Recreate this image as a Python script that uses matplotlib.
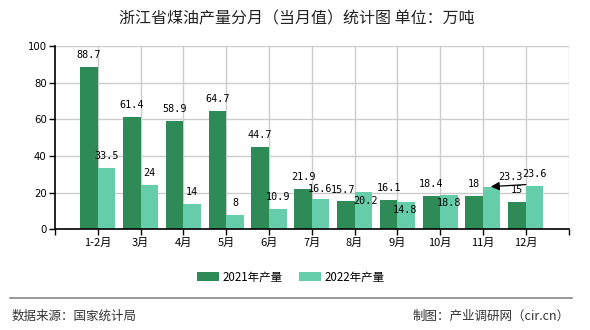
import matplotlib
matplotlib.use("Agg")
import matplotlib.pyplot as plt
from matplotlib.lines import Line2D
from matplotlib.patches import Patch

plt.rcParams['font.family'] = ['Noto Sans CJK SC', 'DejaVu Sans']

# --- Data ------------------------------------------------------------------
months = ['1-2月', '3月', '4月', '5月', '6月', '7月', '8月', '9月', '10月', '11月', '12月']
y2021 = [88.7, 61.4, 58.9, 64.7, 44.7, 21.9, 15.7, 16.1, 18.4, 18, 15]
y2022 = [33.5, 24, 14, 8, 10.9, 16.6, 20.2, 14.8, 18.8, 23.3, 23.6]
yticks = [0, 20, 40, 60, 80, 100]

C2021 = "#2e8b57"
C2022 = "#66cdaa"
PX = 72 / 100  # points per pixel at dpi 100

# label offsets in pixels (dx, dy) relative to bar top, default (0, 12)
off2021 = {6: (-2.5, 11)}
off2022 = {5: (0, 9.5), 6: (2, -9), 7: (-1, -8), 8: (0, -8)}

fig = plt.figure(figsize=(5.9, 3.3), dpi=100)
ax = fig.add_axes([55 / 590, 1 - 229.3 / 330, 513.5 / 590, 183.3 / 330])

x = list(range(len(months)))
w = 0.41
ax.bar([i - w / 2 for i in x], y2021, width=w, color=C2021, zorder=3)
ax.bar([i + w / 2 for i in x], y2022, width=w, color=C2022, zorder=3)

lab_font = dict(family="DejaVu Sans Mono", fontsize=7.3, ha="center", va="center", zorder=5)
for i, v in enumerate(y2021):
    dx, dy = off2021.get(i, (0, 12))
    ax.annotate(f"{v:g}", (i - w / 2, v), xytext=(dx * PX, dy * PX),
                textcoords="offset points", **lab_font)
for i, v in enumerate(y2022):
    if i == 9:
        # displaced label with leader line
        ax.annotate("", (i + w / 2 - 0.02, v), xytext=(35 * PX, 2 * PX),
                    textcoords="offset points",
                    arrowprops=dict(arrowstyle="-|>,head_length=0.5,head_width=0.25",
                                    color="black", lw=0.9, shrinkA=0, shrinkB=0),
                    zorder=5)
        ax.annotate(f"{v:g}", (i + w / 2, v), xytext=(18.6 * PX, 9.6 * PX),
                    textcoords="offset points", **lab_font)
        continue
    dx, dy = off2022.get(i, (0, 12))
    ax.annotate(f"{v:g}", (i + w / 2, v), xytext=(dx * PX, dy * PX),
                textcoords="offset points", **lab_font)

ax.set_xlim(-1, 11)
ax.set_ylim(0, 100)
ax.set_yticks(yticks)
ax.set_yticklabels([str(t) for t in yticks], family="DejaVu Sans", fontsize=7.3)
ax.set_xticks(list(range(-1, 12)))
ax.set_xticklabels([""] + months + [""], fontsize=8)

# grid lines
for t in yticks[1:]:
    ax.axhline(t, color="#cccccc", lw=1, zorder=1)
for i in range(0, 12):
    ax.axvline(i, color="#cccccc", lw=1, zorder=1)

for s in ["top", "right"]:
    ax.spines[s].set_visible(False)
for s in ["left", "bottom"]:
    ax.spines[s].set_color("black")
    ax.spines[s].set_linewidth(1.2)
    ax.spines[s].set_zorder(4)
ax.tick_params(axis="both", direction="out", length=4, width=1, colors="black", pad=2)

fig.text(297 / 590, 1 - 19 / 330, "浙江省煤油产量分月（当月值）统计图 单位：万吨",
         ha="center", va="center", fontsize=11.5, color="#222222")

handles = [Patch(facecolor=C2021, label="2021年产量"),
           Patch(facecolor=C2022, label="2022年产量")]
fig.legend(handles=handles, loc="center", bbox_to_anchor=(291 / 590, 1 - 277 / 330),
           ncol=2, frameon=False, fontsize=8.3, handlelength=1.9, handleheight=0.72,
           handletextpad=0.35, columnspacing=1.4, borderpad=0, borderaxespad=0)

fig.add_artist(Line2D([10 / 590, 572 / 590], [1 - 298.3 / 330] * 2,
                      transform=fig.transFigure, color="#888888", lw=1.2))
fig.text(11.5 / 590, 1 - 316.7 / 330, "数据来源：国家统计局", ha="left", va="center",
         fontsize=9, color="#333333")
fig.text(570 / 590, 1 - 316.7 / 330, "制图：产业调研网（cir.cn）", ha="right", va="center",
         fontsize=9, color="#333333")

fig.savefig("out.png", dpi=100)
